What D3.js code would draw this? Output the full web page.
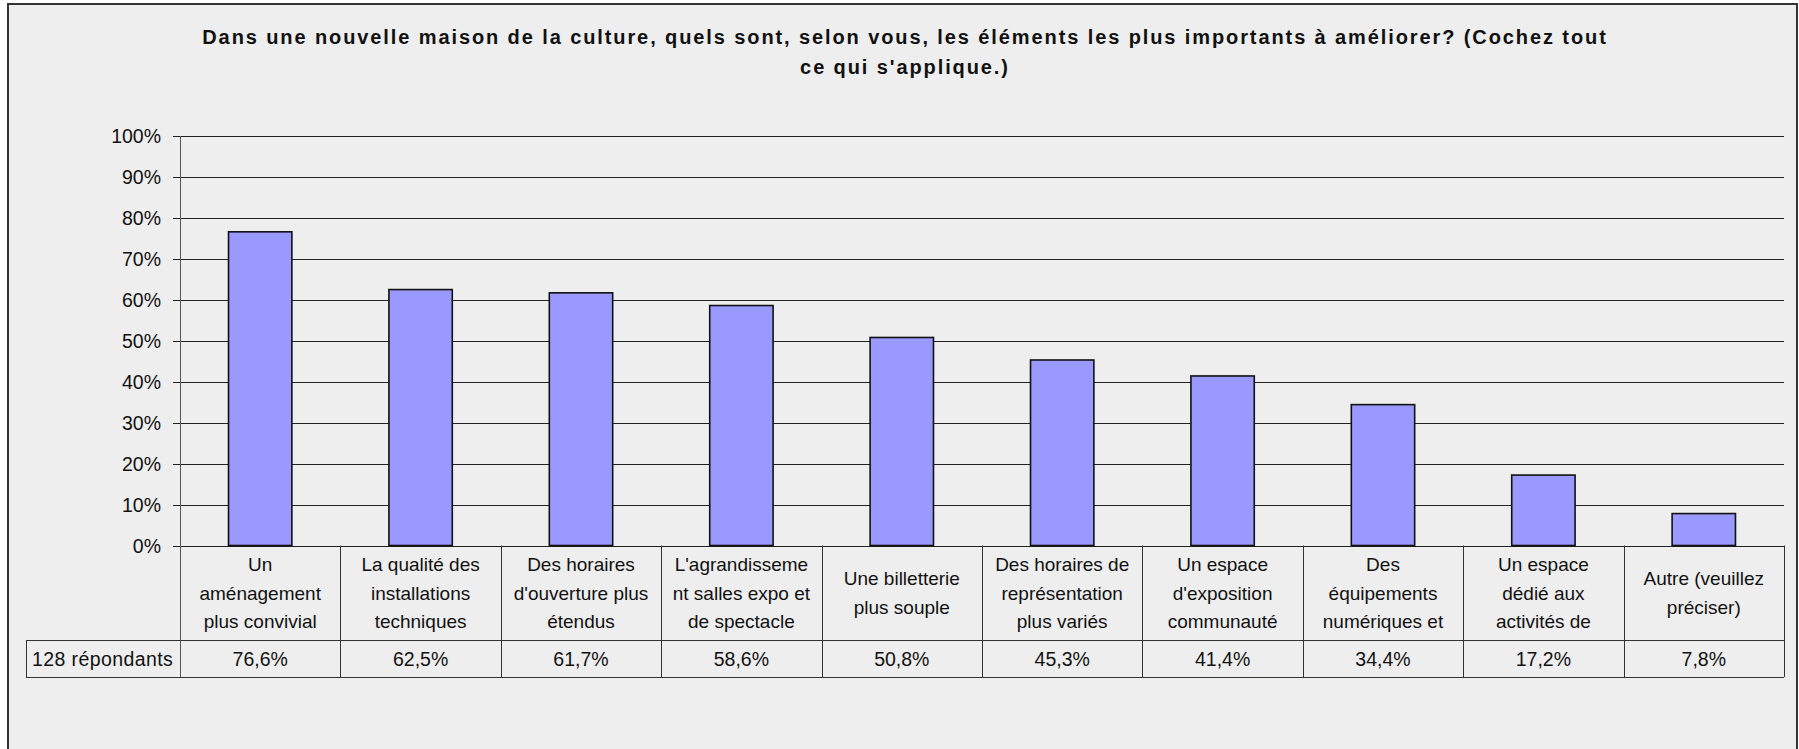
<!DOCTYPE html>
<html>
<head>
    <meta charset="UTF-8">
    <title>Maison de la culture</title>
    <script src="https://d3js.org/d3.v7.min.js"></script>
    <style>
      body { margin: 0; background: #fff; }
      svg { display: block; }
    </style>
</head>
<body>
    <svg id="chart"></svg>

    <script>
    // data
    const categories = [
      ["Un", "aménagement", "plus convivial"],
      ["La qualité des", "installations", "techniques"],
      ["Des horaires", "d'ouverture plus", "étendus"],
      ["L'agrandisseme", "nt salles expo et", "de spectacle"],
      ["Une billetterie", "plus souple"],
      ["Des horaires de", "représentation", "plus variés"],
      ["Un espace", "d'exposition", "communauté"],
      ["Des", "équipements", "numériques et"],
      ["Un espace", "dédié aux", "activités de"],
      ["Autre (veuillez", "préciser)"]
    ];
    const values = [76.6, 62.5, 61.7, 58.6, 50.8, 45.3, 41.4, 34.4, 17.2, 7.8];
    const yTicks = [0, 10, 20, 30, 40, 50, 60, 70, 80, 90, 100];
    const rowLabel = "128 répondants";
    const titleLines = [
      "Dans une nouvelle maison de la culture, quels sont, selon vous, les éléments les plus importants à améliorer? (Cochez tout",
      "ce qui s'applique.)"
    ];

    const width = 1799;
    const height = 749;
    const font = "'Liberation Sans', Arial, sans-serif";

    const plot = {left: 180, right: 1784, top: 136, bottom: 545.5};
    const table = {left: 26, catBottom: 640, valBottom: 677};

    const svg = d3.select("#chart")
      .attr("width", width)
      .attr("height", height)
      .style("font-family", font);

    // background + frame
    svg.append("rect")
      .attr("x", 8).attr("y", 4)
      .attr("width", 1789).attr("height", 800)
      .attr("fill", "#eeeeee")
      .attr("stroke", "#333")
      .attr("stroke-width", 2);

    // title
    svg.append("g").selectAll("text")
      .data(titleLines)
      .join("text")
      .attr("x", 905)
      .attr("y", (d, i) => 44 + i * 30)
      .attr("text-anchor", "middle")
      .attr("font-size", "20px")
      .attr("font-weight", "bold")
      .attr("letter-spacing", "1.9px")
      .attr("fill", "#111")
      .text(d => d);

    const idx = d3.range(categories.length);

    const x = d3.scaleBand()
      .domain(idx)
      .range([plot.left, plot.right])
      .paddingInner(0).paddingOuter(0);

    const y = d3.scaleLinear()
      .domain([0, 100])
      .range([plot.bottom, plot.top]);

    const barW = x.bandwidth() * 0.395;

    // gridlines
    svg.append("g").selectAll("line")
      .data(yTicks)
      .join("line")
      .attr("x1", plot.left - 7)
      .attr("x2", plot.right)
      .attr("y1", d => Math.round(y(d)) + 0.5)
      .attr("y2", d => Math.round(y(d)) + 0.5)
      .attr("stroke", "#222")
      .attr("stroke-width", 1);

    // y axis labels
    svg.append("g").selectAll("text")
      .data(yTicks)
      .join("text")
      .attr("x", 161)
      .attr("y", d => y(d))
      .attr("dy", "0.36em")
      .attr("text-anchor", "end")
      .attr("font-size", "19.5px")
      .attr("fill", "#111")
      .text(d => d + "%");

    // bars
    svg.append("g").selectAll("rect")
      .data(values)
      .join("rect")
      .attr("x", (d, i) => x(i) + (x.bandwidth() - barW) / 2)
      .attr("y", d => y(d))
      .attr("width", barW)
      .attr("height", d => y(0) - y(d))
      .attr("fill", "#9999ff")
      .attr("stroke", "#111")
      .attr("stroke-width", 1.6);

    // y axis line, running down through the table
    svg.append("line")
      .attr("x1", plot.left + 0.5).attr("x2", plot.left + 0.5)
      .attr("y1", plot.top).attr("y2", table.valBottom)
      .attr("stroke", "#555");

    // data table
    const tbl = svg.append("g").attr("stroke", "#333").attr("stroke-width", 1);
    // column dividers
    tbl.selectAll(".col")
      .data(idx.slice(1).concat([categories.length]))
      .join("line")
      .attr("class", "col")
      .attr("x1", i => (i < categories.length ? Math.round(x(i)) : plot.right) + 0.5)
      .attr("x2", i => (i < categories.length ? Math.round(x(i)) : plot.right) + 0.5)
      .attr("y1", plot.bottom)
      .attr("y2", table.valBottom);
    tbl.append("line")
      .attr("x1", table.left).attr("x2", plot.right)
      .attr("y1", table.catBottom + 0.5).attr("y2", table.catBottom + 0.5);
    tbl.append("line")
      .attr("x1", table.left).attr("x2", plot.right)
      .attr("y1", table.valBottom + 0.5).attr("y2", table.valBottom + 0.5);
    tbl.append("line")
      .attr("x1", table.left + 0.5).attr("x2", table.left + 0.5)
      .attr("y1", table.catBottom).attr("y2", table.valBottom);

    // category labels
    const lineH = 28.5;
    const catMid = (plot.bottom + table.catBottom) / 2;
    svg.append("g").selectAll("text")
      .data(categories)
      .join("text")
      .attr("x", (d, i) => x(i) + x.bandwidth() / 2)
      .attr("y", d => catMid - (d.length - 1) * lineH / 2)
      .attr("text-anchor", "middle")
      .attr("font-size", "19px")
      .attr("fill", "#111")
      .each(function(d) {
        d3.select(this).selectAll("tspan")
          .data(d)
          .join("tspan")
          .attr("x", d3.select(this).attr("x"))
          .attr("dy", (t, j) => j === 0 ? "0.36em" : lineH)
          .text(t => t);
      });

    // value row
    const fr = d3.formatLocale({decimal: ",", thousands: " ", grouping: [3], currency: ["", "€"]});
    const fmt = fr.format(".1f");
    const valMid = (table.catBottom + table.valBottom) / 2;
    svg.append("g").selectAll("text")
      .data(values)
      .join("text")
      .attr("x", (d, i) => x(i) + x.bandwidth() / 2)
      .attr("y", valMid)
      .attr("dy", "0.36em")
      .attr("text-anchor", "middle")
      .attr("font-size", "19.5px")
      .attr("fill", "#111")
      .text(d => fmt(d) + "%");

    svg.append("text")
      .attr("x", 32)
      .attr("y", valMid)
      .attr("dy", "0.36em")
      .attr("font-size", "19.5px")
      .attr("letter-spacing", "0.4px")
      .attr("fill", "#111")
      .text(rowLabel);
    </script>
</body>
</html>
